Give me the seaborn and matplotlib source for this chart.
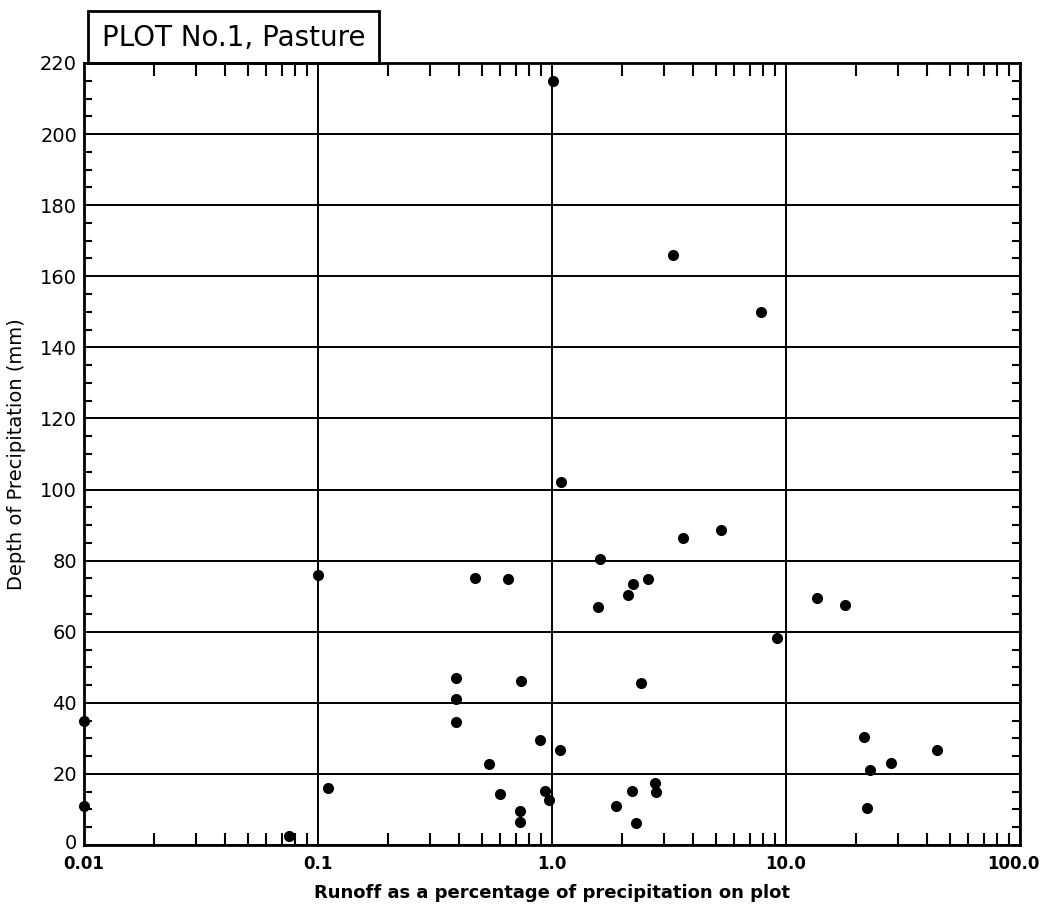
import numpy as np
import pandas as pd
import matplotlib
matplotlib.use("Agg")
import matplotlib.pyplot as plt
from matplotlib.patches import Rectangle
from matplotlib.transforms import ScaledTranslation
from matplotlib.ticker import LogLocator, MultipleLocator, FixedLocator, NullFormatter
import seaborn as sns

# Data
runoff_pct = [0.01, 0.01, 0.075, 0.1, 0.11,
              0.39, 0.39, 0.39, 0.47, 0.65, 0.74, 0.54, 0.60, 0.89, 0.93, 0.97, 0.73, 0.73,
              1.01, 1.08, 1.09, 1.58, 1.60, 2.12, 2.22, 2.56, 2.39, 1.88, 2.19, 2.29, 2.75, 2.79,
              3.3, 3.62, 5.28, 7.8, 9.18,
              13.5, 17.8, 21.5, 22.1, 22.9, 28.2, 44.3]
precip_mm = [35, 11, 2.5, 76, 16,
             47, 41, 34.5, 75, 74.8, 46, 22.8, 14.4, 29.6, 15.3, 12.6, 9.7, 6.6,
             215, 26.6, 102, 67, 80.4, 70.4, 73.3, 74.9, 45.7, 11.1, 15.3, 6.2, 17.5, 14.9,
             166, 86.5, 88.7, 150, 58.2,
             69.4, 67.4, 30.5, 10.5, 21.1, 23.0, 26.8]

x_ticks = [0.01, 0.1, 1.0, 10.0, 100.0]
x_tick_labels = ["0.01", "0.1", "1.0", "10.0", "100.0"]
y_ticks = list(range(0, 221, 20))

title_text = "PLOT No.1, Pasture"
x_label = "Runoff as a percentage of precipitation on plot"
y_label = "Depth of Precipitation (mm)"

df = pd.DataFrame({"runoff": runoff_pct, "precip": precip_mm})

sns.set_theme(style="white")
plt.rcParams['font.family'] = ['DejaVu Sans']

fig = plt.figure(figsize=(10.43, 9.09), dpi=100)
ax = fig.add_axes([0.0805, 0.0704, 0.8975, 0.8603])

sns.scatterplot(data=df, x="runoff", y="precip", ax=ax, color="black",
                s=64, edgecolor="black", linewidth=0, zorder=5, clip_on=False)

ax.set_xscale("log")
ax.set_xlim(0.01, 100)
ax.set_ylim(0, 220)

ax.xaxis.set_major_locator(FixedLocator(x_ticks))
ax.set_xticks(x_ticks)
ax.set_xticklabels(x_tick_labels)
ax.xaxis.set_minor_locator(LogLocator(base=10, subs=np.arange(2, 10), numticks=20))
ax.xaxis.set_minor_formatter(NullFormatter())
ax.set_yticks(y_ticks)
ax.yaxis.set_minor_locator(MultipleLocator(5))

ax.grid(True, which="major", color="black", linewidth=1.4)
ax.set_axisbelow(True)

for sp in ax.spines.values():
    sp.set_visible(True)
    sp.set_color("black")
    sp.set_linewidth(2.0)

ax.tick_params(axis="x", which="major", direction="in", length=0, pad=7,
               labelsize=12, colors="black", top=True, bottom=True)
ax.tick_params(axis="x", which="minor", direction="in", length=9, width=1.5,
               top=True, bottom=True, colors="black")
ax.tick_params(axis="y", which="major", direction="in", length=0, pad=5,
               labelsize=14, colors="black", left=True, right=True)
ax.tick_params(axis="y", which="minor", direction="in", length=6, width=1.5,
               left=True, right=True, colors="black")
xlbls = ax.get_xticklabels()
for lbl in xlbls:
    lbl.set_fontweight("bold")
# nudge the last label inward so it stays inside the figure
xlbls[-1].set_transform(xlbls[-1].get_transform() +
                        ScaledTranslation(-0.07, 0, fig.dpi_scale_trans))
# nudge the "0" label up slightly, as in the reference
ylbls = ax.get_yticklabels()
ylbls[0].set_transform(ylbls[0].get_transform() +
                       ScaledTranslation(0, 0.04, fig.dpi_scale_trans))

ax.set_xlabel(x_label, fontsize=13, fontweight="bold", labelpad=8, color="black")
ax.set_ylabel(y_label, fontsize=14, labelpad=10, color="black")

# Title box at top left
fig.patches.append(Rectangle((88 / 1043, 1 - 63 / 909), (379 - 88) / 1043, (63 - 11) / 909,
                             transform=fig.transFigure, fill=False,
                             edgecolor="black", linewidth=2.0, zorder=10))
fig.text((88 + 379) / 2 / 1043, 1 - 38 / 909, title_text, ha="center", va="center",
         fontsize=20, color="black")

fig.savefig("out.png", dpi=100, facecolor="white")
